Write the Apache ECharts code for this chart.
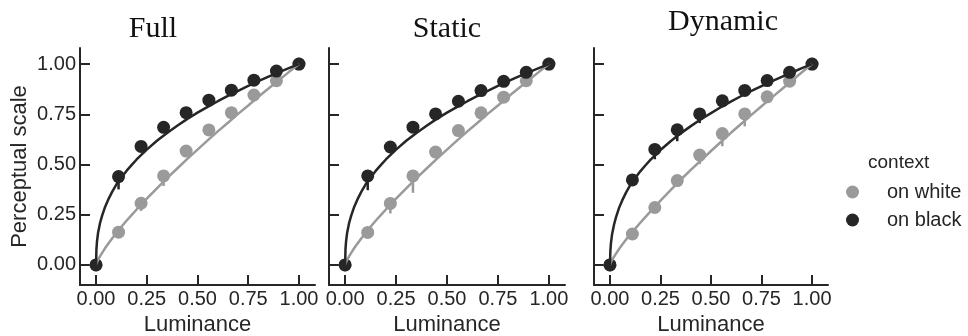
<!DOCTYPE html>
<html>
<head>
<meta charset="utf-8">
<script src="https://cdn.jsdelivr.net/npm/echarts@6/dist/echarts.min.js"></script>
<style>
html, body { margin: 0; padding: 0; background: #fff; }
#main { width: 968px; height: 336px; }
</style>
</head>
<body>
<div id="main"></div>
<script>
// luminance levels used in the experiment
var lum = [0, 0.111, 0.222, 0.333, 0.444, 0.556, 0.667, 0.778, 0.889, 1.0];
var tickVals = [0, 0.25, 0.5, 0.75, 1];
var panelNames = ['Full', 'Static', 'Dynamic'];

// measured perceptual scale
var fullWhite = [0, 0.163, 0.307, 0.443, 0.567, 0.672, 0.758, 0.846, 0.917, 1.0];
var fullBlack = [0, 0.44, 0.59, 0.685, 0.758, 0.82, 0.87, 0.92, 0.965, 1.0];
var staticWhite = [0, 0.162, 0.306, 0.443, 0.562, 0.669, 0.757, 0.835, 0.917, 1.0];
var staticBlack = [0, 0.443, 0.587, 0.686, 0.752, 0.815, 0.868, 0.914, 0.959, 1.0];
var dynWhite = [0, 0.154, 0.286, 0.42, 0.547, 0.654, 0.752, 0.837, 0.915, 1.0];
var dynBlack = [0, 0.423, 0.575, 0.673, 0.752, 0.817, 0.869, 0.918, 0.959, 1.0];

// lower end of the error bars (null = hidden behind the marker)
var fullWhiteLow = [null, null, 0.269, 0.393, null, null, null, null, null, null];
var fullBlackLow = [null, 0.376, null, null, null, null, null, null, null, null];
var staticWhiteLow = [null, null, 0.256, 0.359, null, null, null, null, null, null];
var staticBlackLow = [null, 0.372, null, null, null, null, null, null, null, null];
var dynWhiteLow = [null, null, null, null, 0.502, 0.591, 0.69, null, null, null];
var dynBlackLow = [null, null, 0.526, 0.616, 0.706, null, null, null, null, null];

// fitted curves
var curveX = [0, 0.002, 0.005, 0.01, 0.02, 0.03, 0.045, 0.06, 0.08, 0.1, 0.125, 0.15, 0.175, 0.2, 0.25,
              0.3, 0.35, 0.4, 0.45, 0.5, 0.55, 0.6, 0.65, 0.7, 0.75, 0.8, 0.85, 0.9, 0.95, 1];
var fitFullWhite = [0, 0.007, 0.014, 0.025, 0.044, 0.06, 0.084, 0.105, 0.133, 0.158, 0.19, 0.22, 0.248, 0.276, 0.33,
                    0.381, 0.432, 0.48, 0.528, 0.574, 0.62, 0.665, 0.708, 0.752, 0.794, 0.837, 0.878, 0.919, 0.96, 1];
var fitFullBlack = [0, 0.08, 0.12, 0.16, 0.21, 0.245, 0.29, 0.325, 0.365, 0.40, 0.435, 0.468, 0.497, 0.525, 0.574,
                    0.618, 0.657, 0.693, 0.727, 0.758, 0.787, 0.815, 0.842, 0.867, 0.891, 0.915, 0.937, 0.959, 0.98, 1];
var fitStaticWhite = [0, 0.007, 0.014, 0.025, 0.044, 0.06, 0.084, 0.105, 0.133, 0.158, 0.19, 0.22, 0.248, 0.276, 0.33,
                      0.381, 0.432, 0.48, 0.528, 0.574, 0.62, 0.665, 0.708, 0.752, 0.794, 0.837, 0.878, 0.919, 0.96, 1];
var fitStaticBlack = [0, 0.08, 0.12, 0.16, 0.21, 0.245, 0.29, 0.325, 0.365, 0.40, 0.435, 0.468, 0.497, 0.525, 0.574,
                      0.618, 0.657, 0.693, 0.727, 0.758, 0.787, 0.815, 0.842, 0.867, 0.891, 0.915, 0.937, 0.959, 0.98, 1];
var fitDynWhite = [0, 0.006, 0.013, 0.023, 0.041, 0.056, 0.079, 0.1, 0.127, 0.151, 0.181, 0.21, 0.238, 0.265, 0.32,
                   0.372, 0.424, 0.473, 0.52, 0.567, 0.613, 0.659, 0.703, 0.747, 0.79, 0.833, 0.875, 0.917, 0.959, 1];
var fitDynBlack = [0, 0.07, 0.11, 0.15, 0.2, 0.238, 0.284, 0.32, 0.361, 0.397, 0.433, 0.466, 0.495, 0.523, 0.572,
                   0.616, 0.655, 0.691, 0.725, 0.756, 0.786, 0.814, 0.841, 0.866, 0.89, 0.914, 0.936, 0.958, 0.98, 1];

var WHITE = '#9a9a9a';
var BLACK = '#262626';
var INK = '#262626';
var SANS = 'Liberation Sans';

var myChart = echarts.init(document.getElementById('main'));

function pairs(xv, yv) {
    return xv.map(function (x, i) { return [x, yv[i]]; });
}
function errData(yv, lowv) {
    var out = [];
    lowv.forEach(function (lo, i) {
        if (lo !== null) out.push([lum[i], yv[i], lo]);
    });
    return out;
}

var grids = [
    { left: 80, top: 48, width: 235, height: 237, outerBoundsMode: 'none' },
    { left: 329, top: 48, width: 236, height: 237, outerBoundsMode: 'none' },
    { left: 594, top: 48, width: 234, height: 237, outerBoundsMode: 'none' }
];

var xAxes = [], yAxes = [], series = [];
var panelData = [
    [fullWhite, fullBlack, fullWhiteLow, fullBlackLow, fitFullWhite, fitFullBlack],
    [staticWhite, staticBlack, staticWhiteLow, staticBlackLow, fitStaticWhite, fitStaticBlack],
    [dynWhite, dynBlack, dynWhiteLow, dynBlackLow, fitDynWhite, fitDynBlack]
];

panelData.forEach(function (d, k) {
    xAxes.push({
        gridIndex: k, type: 'value', min: -0.079, max: 1.079,
        name: 'Luminance', nameLocation: 'middle', nameGap: 26,
        nameTextStyle: { fontSize: 22, color: INK, fontFamily: SANS },
        axisLine: { onZero: false, lineStyle: { color: INK, width: 2 } },
        axisTick: { inside: true, length: 10, customValues: tickVals, lineStyle: { color: INK, width: 2 } },
        axisLabel: {
            customValues: tickVals, margin: 4, fontSize: 20, color: INK, fontFamily: SANS,
            formatter: function (v) { return v.toFixed(2); }
        },
        splitLine: { show: false }
    });
    yAxes.push({
        gridIndex: k, type: 'value', min: -0.1, max: 1.08,
        name: k === 0 ? 'Perceptual scale' : '', nameLocation: 'middle', nameGap: 49,
        nameTextStyle: { fontSize: 22, color: INK, fontFamily: SANS },
        axisLine: { onZero: false, lineStyle: { color: INK, width: 2 } },
        axisTick: { inside: true, length: 10, customValues: tickVals, lineStyle: { color: INK, width: 2 } },
        axisLabel: {
            show: k === 0, customValues: tickVals, margin: 4, fontSize: 20, color: INK, fontFamily: SANS,
            formatter: function (v) { return v.toFixed(2); }
        },
        splitLine: { show: false }
    });

    [[d[0], d[2], d[4], WHITE, 'on white'], [d[1], d[3], d[5], BLACK, 'on black']].forEach(function (s) {
        var col = s[3];
        series.push({
            name: s[4], type: 'scatter', xAxisIndex: k, yAxisIndex: k,
            symbolSize: 13, z: 2,
            itemStyle: { color: col, opacity: 1 },
            data: pairs(lum, s[0])
        });
        series.push({
            type: 'custom', xAxisIndex: k, yAxisIndex: k, z: 2,
            data: errData(s[0], s[1]),
            renderItem: function (params, api) {
                var p0 = api.coord([api.value(0), api.value(1)]);
                var p1 = api.coord([api.value(0), api.value(2)]);
                return {
                    type: 'line',
                    shape: { x1: p0[0], y1: p0[1], x2: p1[0], y2: p1[1] },
                    style: { stroke: col, lineWidth: 2.5 }
                };
            }
        });
        series.push({
            type: 'line', xAxisIndex: k, yAxisIndex: k, z: 3,
            smooth: false, showSymbol: false, silent: true,
            lineStyle: { color: col, width: 2.5 },
            data: pairs(curveX, s[2])
        });
    });
});

var option = {
    animation: false,
    grid: grids,
    xAxis: xAxes,
    yAxis: yAxes,
    legend: {
        orient: 'vertical', left: 841, top: 177,
        itemWidth: 13, itemHeight: 13, itemGap: 8, icon: 'circle',
        data: ['on white', 'on black'],
        textStyle: { fontSize: 20, color: INK, fontFamily: SANS, padding: [0, 0, 0, 23] }
    },
    graphic: [
        { type: 'text', x: 153, y: 14, style: { text: panelNames[0], fontSize: 30, fontFamily: 'Liberation Serif', fill: '#111', textAlign: 'center' } },
        { type: 'text', x: 447, y: 14, style: { text: panelNames[1], fontSize: 30, fontFamily: 'Liberation Serif', fill: '#111', textAlign: 'center' } },
        { type: 'text', x: 723, y: 7, style: { text: panelNames[2], fontSize: 30, fontFamily: 'Liberation Serif', fill: '#111', textAlign: 'center' } },
        { type: 'text', x: 868, y: 153, style: { text: 'context', fontSize: 19, fontFamily: SANS, fill: INK } }
    ],
    series: series
};

myChart.setOption(option);
</script>
</body>
</html>
